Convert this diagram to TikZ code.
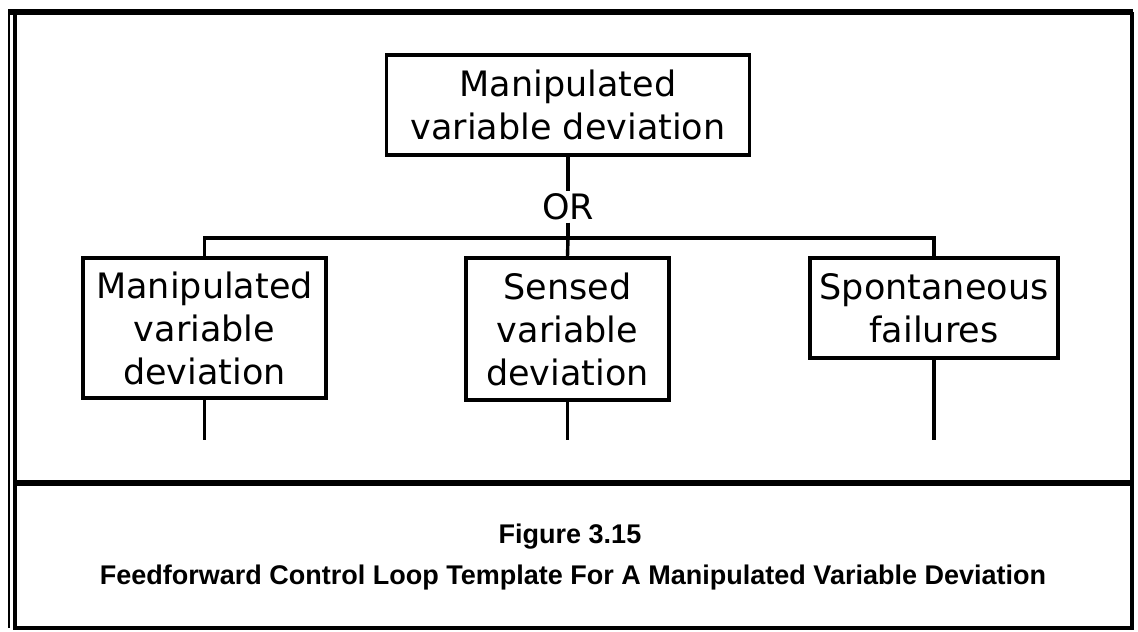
\documentclass[tikz,border=0pt]{standalone}
\usepackage{fontspec}
\setmainfont{Liberation Sans}
\newfontfamily\boxfont{DejaVu Sans}
\usepackage{tikz}
\usetikzlibrary{positioning, calc}
\tikzset{
  faultbox/.style={draw, line width=1.7pt, align=center, inner sep=0pt,
                   font=\boxfont\fontsize{17.5}{21.5}\selectfont},
  wire/.style={line width=1.7pt},
  frameline/.style={line width=2.6pt}
}

\begin{document}
\begin{tikzpicture}[x=0.5pt, y=-0.5pt]
  \useasboundingbox (0,0) rectangle (1138,631);
  % Page frame and caption divider
  \draw[line width=1.2pt] (9,12) -- (9,628);
  \draw[line width=1.6pt] (15,12) -- (15,628) -- (1132,628) -- (1132,12);
  \draw[frameline] (8,12) -- (1133,12);
  \draw[frameline] (15,483) -- (1132,483);
  % Top event and the OR gate
  \node[faultbox, minimum width=181.5pt, minimum height=50pt] (top) at (568,105)
    {Manipulated\\variable\ deviation};
  \node[font=\boxfont\fontsize{17.5}{21}\selectfont, inner sep=1pt] (gate) at (568,207) {OR};
  % Causes
  \node[faultbox, minimum width=121.5pt, minimum height=70pt] (manip) at (204.5,328)
    {Manipulated\\variable\\deviation};
  \node[faultbox, minimum width=101.5pt, minimum height=71pt] (sensed) at (567.5,329)
    {Sensed\\variable\\deviation};
  \node[faultbox, minimum width=124pt, minimum height=50pt] (spont) at (934,308)
    {Spontaneous\\failures};
  \coordinate (busL) at (manip.north |- 0,238);
  \coordinate (busR) at (spont.north |- 0,238);
  \coordinate (busM) at (gate.south |- 0,238);
  \draw[wire] (top.south) -- (gate.north);
  \draw[wire] (gate.south) -- (busM);
  \draw[wire] (manip.north) -- (busL) -- (busR) -- (spont.north);
  \draw[wire] (busM) -- (sensed.north);
  % Open ends below the causes
  \foreach \n in {manip, sensed, spont} {
    \coordinate (\n-end) at (\n.south |- 0,440);
    \draw[wire] (\n.south) -- (\n-end);
  }
  % Caption
  \node[font=\bfseries\fontsize{13.5}{16}\selectfont] (fig) at (570,537) {Figure 3.15};
  \node[font=\bfseries\fontsize{13.5}{16}\selectfont] (title) at (573,578)
    {Feedforward Control Loop Template For A Manipulated Variable Deviation};
\end{tikzpicture}
\end{document}
